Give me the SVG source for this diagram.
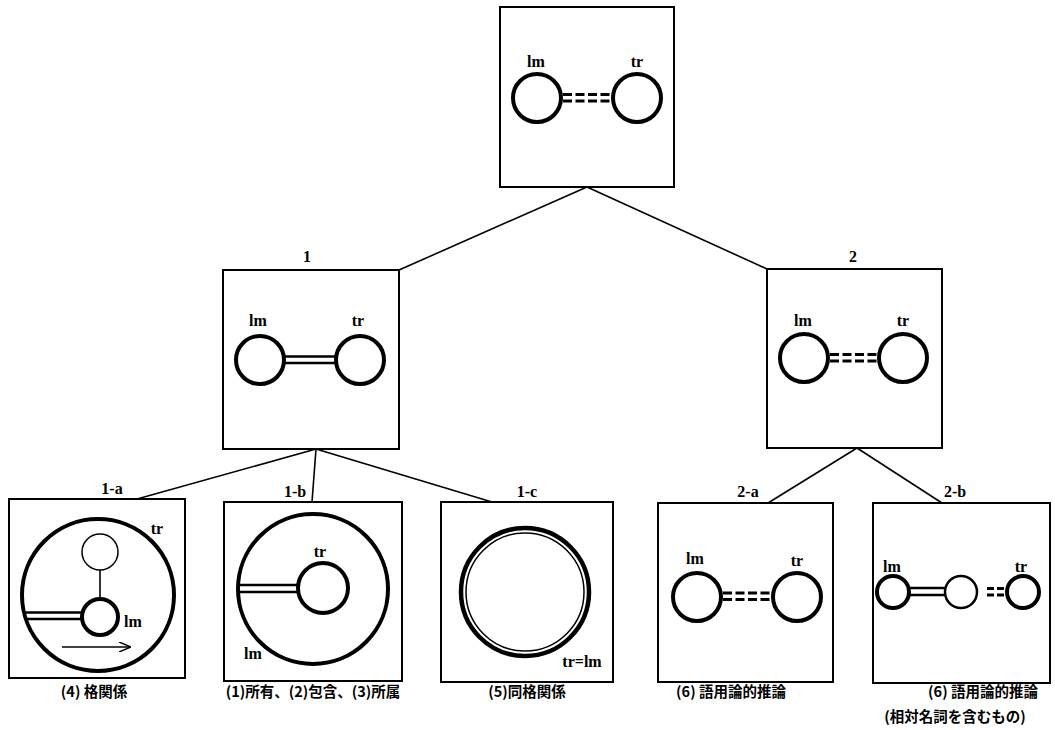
<svg xmlns="http://www.w3.org/2000/svg" width="1055" height="730" viewBox="0 0 1055 730">
<defs>
<style>
.box{fill:#fff;stroke:#000;stroke-width:2}
.c{fill:#fff;stroke:#000;stroke-width:4}
.ct{fill:none;stroke:#000;stroke-width:1.5}
.ln{stroke:#000;stroke-width:1.6;fill:none}
.lbl{font-family:"Liberation Serif",serif;font-weight:bold;font-size:16px;fill:#000;text-anchor:middle}
.cap{font-family:"Noto Sans CJK JP","Noto Sans CJK SC",sans-serif;font-weight:bold;font-size:14.5px;fill:#000;text-anchor:middle}
.dash{stroke:#000;stroke-width:3;stroke-dasharray:9 3.5;fill:none}
.dash2{stroke:#000;stroke-width:3;stroke-dasharray:7 3;fill:none}
.dbl{stroke:#000;stroke-width:2.4;fill:none}
</style>
<marker id="ah" viewBox="0 0 12 10" refX="11" refY="5" markerWidth="12" markerHeight="10" markerUnits="userSpaceOnUse" orient="auto">
<path d="M0,0 L12,5 L0,10" fill="none" stroke="#000" stroke-width="1.5"/>
</marker>
</defs>
<rect width="1055" height="730" fill="#fff"/>
<g id="connectors">
<line class="ln" x1="587" y1="187" x2="399" y2="270"/>
<line class="ln" x1="587" y1="187" x2="767" y2="269"/>
<line class="ln" x1="316" y1="449" x2="137" y2="499"/>
<line class="ln" x1="316" y1="449" x2="312" y2="502"/>
<line class="ln" x1="316" y1="449" x2="492" y2="502"/>
<line class="ln" x1="857" y1="448" x2="768" y2="503"/>
<line class="ln" x1="857" y1="448" x2="942" y2="503"/>
</g>
<g id="node-root">
<rect class="box" x="500" y="7" width="174" height="180"/>
<circle class="c" cx="537" cy="98" r="24"/>
<circle class="c" cx="637" cy="98" r="24"/>
<line class="dash" x1="563" y1="94.5" x2="612" y2="94.5"/>
<line class="dash" x1="563" y1="101" x2="612" y2="101"/>
<text class="lbl" x="536" y="67">lm</text>
<text class="lbl" x="637" y="67">tr</text>
</g>
<g id="node-1">
<rect class="box" x="223" y="270" width="176" height="179"/>
<text class="lbl" x="307" y="262">1</text>
<circle class="c" cx="260" cy="360" r="24"/>
<circle class="c" cx="360" cy="360" r="24"/>
<line class="dbl" x1="285" y1="356.5" x2="335" y2="356.5"/>
<line class="dbl" x1="285" y1="363" x2="335" y2="363"/>
<text class="lbl" x="258" y="326">lm</text>
<text class="lbl" x="358" y="326">tr</text>
</g>
<g id="node-2">
<rect class="box" x="767" y="269" width="175" height="179"/>
<text class="lbl" x="853" y="262">2</text>
<circle class="c" cx="804" cy="358" r="24"/>
<circle class="c" cx="903" cy="358" r="24"/>
<line class="dash" x1="830" y1="354.5" x2="878" y2="354.5"/>
<line class="dash" x1="830" y1="361" x2="878" y2="361"/>
<text class="lbl" x="803" y="326">lm</text>
<text class="lbl" x="903" y="326">tr</text>
</g>
<g id="node-1a">
<rect class="box" x="9" y="499" width="176" height="179"/>
<text class="lbl" x="112" y="494">1-a</text>
<circle class="c" cx="98" cy="595" r="76"/>
<circle class="ct" cx="100" cy="552" r="18"/>
<line class="ln" x1="100" y1="570" x2="100" y2="599"/>
<line class="dbl" x1="25" y1="612.5" x2="82" y2="612.5"/>
<line class="dbl" x1="25" y1="619" x2="82" y2="619"/>
<circle class="c" cx="100" cy="617" r="18"/>
<line class="ln" x1="62" y1="647" x2="130" y2="647" marker-end="url(#ah)"/>
<text class="lbl" x="133" y="627">lm</text>
<text class="lbl" x="157" y="534">tr</text>
<text class="cap" x="94" y="697">(4) 格関係</text>
</g>
<g id="node-1b">
<rect class="box" x="224" y="502" width="178" height="179"/>
<text class="lbl" x="295" y="497">1-b</text>
<circle class="c" cx="313" cy="589" r="75"/>
<line class="dbl" x1="240" y1="585" x2="300" y2="585"/>
<line class="dbl" x1="240" y1="592" x2="300" y2="592"/>
<circle class="c" cx="323" cy="588" r="25"/>
<text class="lbl" x="320" y="557">tr</text>
<text class="lbl" x="253" y="659">lm</text>
<text class="cap" x="313" y="697" font-size="14">(1)所有、(2)包含、(3)所属</text>
</g>
<g id="node-1c">
<rect class="box" x="441" y="502" width="172" height="180"/>
<text class="lbl" x="527" y="497">1-c</text>
<circle cx="525" cy="592" r="64" fill="none" stroke="#000" stroke-width="4.5"/>
<circle cx="525" cy="592" r="59" fill="none" stroke="#000" stroke-width="1.5"/>
<text class="lbl" x="582" y="667">tr=lm</text>
<text class="cap" x="527" y="697">(5)同格関係</text>
</g>
<g id="node-2a">
<rect class="box" x="658" y="503" width="175" height="179"/>
<text class="lbl" x="748" y="497">2-a</text>
<circle class="c" cx="697" cy="597" r="24"/>
<circle class="c" cx="797" cy="597" r="24"/>
<line class="dash" x1="723" y1="593" x2="772" y2="593"/>
<line class="dash" x1="723" y1="599.5" x2="772" y2="599.5"/>
<text class="lbl" x="695" y="564">lm</text>
<text class="lbl" x="797" y="566">tr</text>
<text class="cap" x="731" y="697">(6) 語用論的推論</text>
</g>
<g id="node-2b">
<rect class="box" x="873" y="503" width="177" height="180"/>
<text class="lbl" x="955" y="497">2-b</text>
<circle class="c" cx="893" cy="592" r="16"/>
<line class="dbl" x1="909" y1="588" x2="946" y2="588"/>
<line class="dbl" x1="909" y1="595" x2="946" y2="595"/>
<circle cx="961" cy="592" r="16" fill="#fff" stroke="#000" stroke-width="2.5"/>
<line class="dash2" x1="987" y1="588.5" x2="1005" y2="588.5"/>
<line class="dash2" x1="987" y1="595" x2="1005" y2="595"/>
<circle class="c" cx="1023" cy="592" r="16"/>
<text class="lbl" x="892" y="572">lm</text>
<text class="lbl" x="1021" y="572">tr</text>
<text class="cap" x="983" y="697">(6) 語用論的推論</text>
<text class="cap" x="955" y="722">(相対名詞を含むもの)</text>
</g>
</svg>
